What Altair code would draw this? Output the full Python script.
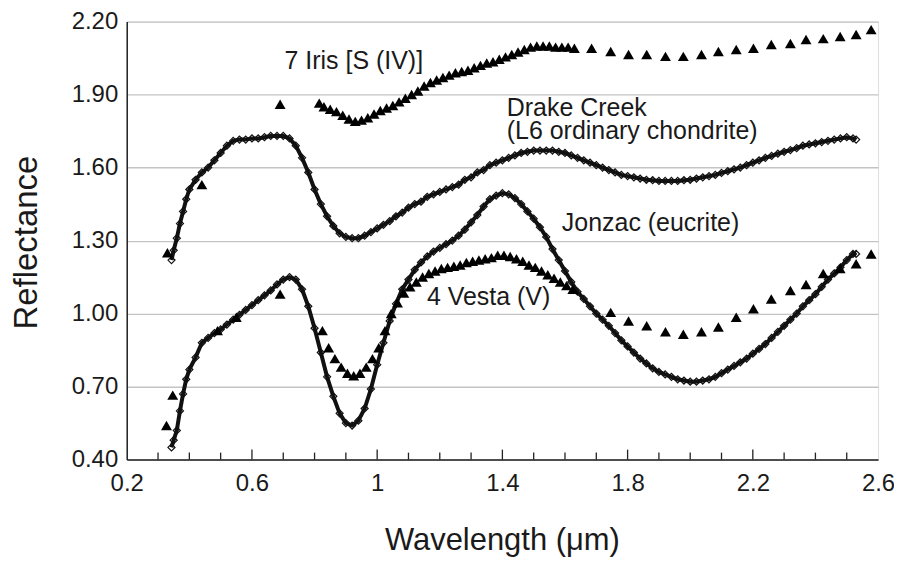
import altair as alt
import pandas as pd

# ---------------- data ----------------
drake_x = [0.343, 0.35, 0.36, 0.37, 0.38, 0.39, 0.40, 0.42, 0.44, 0.46, 0.48, 0.50, 0.52, 0.54, 0.56, 0.58,
           0.60, 0.62, 0.64, 0.66, 0.68, 0.70, 0.72, 0.74, 0.76, 0.78, 0.80, 0.82, 0.84, 0.86, 0.88, 0.90,
           0.92, 0.94, 0.96, 0.98, 1.00, 1.02, 1.04, 1.06, 1.08, 1.10, 1.12, 1.14, 1.16, 1.18, 1.20, 1.22,
           1.24, 1.26, 1.28, 1.30, 1.32, 1.34, 1.36, 1.38, 1.40, 1.42, 1.44, 1.46, 1.48, 1.50, 1.52, 1.54,
           1.56, 1.58, 1.60, 1.62, 1.64, 1.66, 1.68, 1.70, 1.72, 1.74, 1.76, 1.78, 1.80, 1.82, 1.84, 1.86,
           1.88, 1.90, 1.92, 1.94, 1.96, 1.98, 2.00, 2.02, 2.04, 2.06, 2.08, 2.10, 2.12, 2.14, 2.16, 2.18,
           2.20, 2.22, 2.24, 2.26, 2.28, 2.30, 2.32, 2.34, 2.36, 2.38, 2.40, 2.42, 2.44, 2.46, 2.48, 2.50,
           2.52, 2.53]
drake_y = [1.22, 1.26, 1.31, 1.37, 1.42, 1.47, 1.51, 1.55, 1.58, 1.60, 1.63, 1.66, 1.69, 1.71, 1.715, 1.715,
           1.72, 1.72, 1.725, 1.73, 1.73, 1.73, 1.72, 1.69, 1.64, 1.58, 1.51, 1.45, 1.40, 1.36, 1.33, 1.315,
           1.31, 1.31, 1.32, 1.335, 1.35, 1.365, 1.38, 1.40, 1.415, 1.435, 1.45, 1.46, 1.48, 1.49, 1.50, 1.51,
           1.52, 1.53, 1.55, 1.56, 1.58, 1.59, 1.61, 1.62, 1.63, 1.64, 1.65, 1.66, 1.665, 1.67, 1.67, 1.67,
           1.67, 1.665, 1.66, 1.65, 1.64, 1.63, 1.62, 1.61, 1.60, 1.59, 1.58, 1.57, 1.565, 1.56, 1.555, 1.55,
           1.548, 1.545, 1.545, 1.545, 1.545, 1.548, 1.55, 1.555, 1.56, 1.565, 1.57, 1.578, 1.585, 1.593, 1.60, 1.61,
           1.62, 1.63, 1.64, 1.648, 1.657, 1.665, 1.672, 1.68, 1.69, 1.695, 1.70, 1.705, 1.71, 1.715, 1.72, 1.725,
           1.72, 1.715]

jonzac_x = drake_x
jonzac_y = [0.45, 0.48, 0.52, 0.60, 0.67, 0.73, 0.77, 0.82, 0.88, 0.90, 0.92, 0.935, 0.955, 0.975, 0.995, 1.015,
            1.035, 1.055, 1.075, 1.095, 1.12, 1.14, 1.15, 1.14, 1.10, 1.03, 0.94, 0.84, 0.74, 0.66, 0.59, 0.55,
            0.54, 0.56, 0.61, 0.69, 0.79, 0.88, 0.97, 1.04, 1.10, 1.14, 1.18, 1.21, 1.235, 1.255, 1.27, 1.285,
            1.30, 1.32, 1.345, 1.375, 1.405, 1.44, 1.47, 1.485, 1.495, 1.49, 1.475, 1.45, 1.42, 1.39, 1.355, 1.315,
            1.265, 1.22, 1.175, 1.13, 1.09, 1.06, 1.03, 1.00, 0.975, 0.95, 0.92, 0.89, 0.865, 0.84, 0.815, 0.795,
            0.775, 0.76, 0.75, 0.74, 0.73, 0.725, 0.72, 0.72, 0.725, 0.73, 0.74, 0.755, 0.77, 0.785, 0.80, 0.815,
            0.835, 0.855, 0.875, 0.90, 0.925, 0.95, 0.975, 1.00, 1.03, 1.055, 1.08, 1.11, 1.14, 1.165, 1.19, 1.22,
            1.245, 1.245]

iris_x = [0.33, 0.44, 0.69,
          0.815, 0.83, 0.85, 0.87, 0.89, 0.91, 0.93, 0.95, 0.97, 0.99, 1.01, 1.03, 1.05, 1.07, 1.09, 1.11,
          1.13, 1.15, 1.17, 1.19, 1.21, 1.23, 1.25, 1.27, 1.29, 1.31, 1.33, 1.35, 1.37, 1.39, 1.41, 1.43,
          1.45, 1.47, 1.49, 1.51, 1.53, 1.55, 1.57, 1.59, 1.61, 1.63,
          1.685, 1.746, 1.803, 1.861, 1.921, 1.978, 2.036, 2.09, 2.147, 2.202, 2.259, 2.32, 2.37, 2.425,
          2.479, 2.53, 2.578]
iris_y = [1.25, 1.53, 1.86,
          1.865, 1.85, 1.84, 1.83, 1.815, 1.80, 1.79, 1.795, 1.805, 1.82, 1.835, 1.845, 1.855, 1.87, 1.885, 1.90,
          1.915, 1.935, 1.95, 1.96, 1.97, 1.98, 1.99, 1.995, 2.00, 2.01, 2.02, 2.03, 2.035, 2.045, 2.055, 2.065,
          2.075, 2.085, 2.095, 2.10, 2.10, 2.10, 2.095, 2.095, 2.095, 2.09,
          2.09, 2.077, 2.065, 2.065, 2.057, 2.057, 2.065, 2.077, 2.085, 2.09, 2.106, 2.11, 2.126, 2.13,
          2.139, 2.147, 2.167]

vesta_x = [0.327, 0.347, 0.49, 0.55, 0.69,
           0.825, 0.845, 0.865, 0.885, 0.905, 0.925, 0.945, 0.965, 0.985, 1.005, 1.025, 1.045, 1.065, 1.085,
           1.105, 1.125, 1.145, 1.165, 1.185, 1.205, 1.225, 1.245, 1.265, 1.285, 1.305, 1.325, 1.345, 1.365,
           1.385, 1.405, 1.425, 1.445, 1.465, 1.485, 1.505, 1.525, 1.545, 1.565, 1.585, 1.605, 1.625,
           1.746, 1.803, 1.861, 1.921, 1.978, 2.036, 2.09, 2.147, 2.202, 2.259, 2.32, 2.37, 2.425, 2.479,
           2.53, 2.578]
vesta_y = [0.54, 0.665, 0.93, 0.985, 1.08,
           0.93, 0.86, 0.815, 0.78, 0.755, 0.745, 0.755, 0.78, 0.815, 0.86, 0.93, 1.00, 1.045, 1.085,
           1.11, 1.13, 1.15, 1.165, 1.175, 1.185, 1.19, 1.195, 1.20, 1.21, 1.215, 1.22, 1.225, 1.23,
           1.24, 1.24, 1.235, 1.225, 1.215, 1.20, 1.19, 1.175, 1.16, 1.145, 1.13, 1.115, 1.10,
           1.005, 0.97, 0.95, 0.925, 0.915, 0.925, 0.945, 0.985, 1.02, 1.06, 1.095, 1.12, 1.165, 1.185,
           1.205, 1.245]

label_text = ["7 Iris [S (IV)]", "Drake Creek\n(L6 ordinary chondrite)", "Jonzac (eucrite)", "4 Vesta (V)"]
label_x = [0.704, 1.414, 1.59, 1.159]
label_y = [2.036, 1.846, 1.373, 1.067]

x_labels = [0.2, 0.6, 1.0, 1.4, 1.8, 2.2, 2.6]
y_labels = [0.4, 0.7, 1.0, 1.3, 1.6, 1.9, 2.2]
minor_ticks = [0.3, 0.4, 0.5, 0.7, 0.8, 0.9, 1.1, 1.2, 1.3, 1.5, 1.6, 1.7, 1.9, 2.0, 2.1, 2.3, 2.4, 2.5]
major_ticks = [0.6, 1.0, 1.4, 1.8, 2.2]

# ---------------- frames ----------------
drake = pd.DataFrame({"x": drake_x, "y": drake_y})
jonzac = pd.DataFrame({"x": jonzac_x, "y": jonzac_y})
iris = pd.DataFrame({"x": iris_x, "y": iris_y})
vesta = pd.DataFrame({"x": vesta_x, "y": vesta_y})
labels = pd.DataFrame({"x": label_x, "y": label_y, "t": label_text})
minor = pd.DataFrame({"x": minor_ticks})
major = pd.DataFrame({"x": major_ticks})

FONT = "Liberation Sans"
INK = "#1a1a1a"
W, H = 753, 439

xscale = alt.Scale(domain=[0.2, 2.6], nice=False, zero=False)
yscale = alt.Scale(domain=[0.4, 2.2], nice=False, zero=False)

xaxis = alt.Axis(values=x_labels, format="~g", title="Wavelength (\u03bcm)", grid=False, ticks=False,
                 labelFlush=False, labelFontSize=24, labelPadding=12, labelFont=FONT, labelColor=INK,
                 titleFontSize=31, titleFont=FONT, titleFontWeight="normal", titleColor=INK,
                 titleX=376, titleY=90, titleBaseline="alphabetic", titleAlign="center",
                 domainColor="#222222", domainWidth=1.5)
yaxis = alt.Axis(values=y_labels, format=".2f", title="Reflectance", grid=True, gridColor="#c4c4c4",
                 gridWidth=1.3, ticks=False, labelFlush=False, labelFontSize=24, labelPadding=9,
                 labelFont=FONT, labelColor=INK, titleFontSize=33, titleFont=FONT, titleFontWeight="normal",
                 titleColor=INK, titleAngle=-90, titleX=-100, titleY=221, titleBaseline="middle",
                 titleAlign="center", domainColor="#222222", domainWidth=1.5)

X = alt.X("x:Q", scale=xscale, axis=xaxis)
Y = alt.Y("y:Q", scale=yscale, axis=yaxis)


def spectrum(df):
    line = alt.Chart(df).mark_line(color="#111111", strokeWidth=4).encode(x=X, y=Y)
    pts = alt.Chart(df).mark_point(shape="diamond", filled=False, stroke="#111111",
                                   strokeWidth=1.2, size=50, opacity=1).encode(x=X, y=Y)
    return line + pts


def asteroid(df):
    return alt.Chart(df).mark_point(shape="triangle-up", filled=True, color="#000000",
                                    size=120, opacity=1).encode(x=X, y=Y)


minor_rules = alt.Chart(minor).mark_rule(color="#222222", strokeWidth=1.3).encode(
    x=X, y=alt.value(H), y2=alt.value(H - 7))
major_rules = alt.Chart(major).mark_rule(color="#222222", strokeWidth=1.3).encode(
    x=X, y=alt.value(H), y2=alt.value(H - 10))

texts = alt.Chart(labels).mark_text(align="left", baseline="middle", fontSize=25, font=FONT,
                                    lineBreak="\n", lineHeight=23, color=INK).encode(x=X, y=Y, text="t:N")

chart = alt.layer(
    spectrum(drake), spectrum(jonzac), asteroid(iris), asteroid(vesta),
    minor_rules, major_rules, texts
).properties(
    width=W, height=H,
    autosize=alt.AutoSizeParams(type="none"),
    padding={"left": 119, "top": 13, "right": 16, "bottom": 97},
).configure_view(stroke="#222222", strokeWidth=1.5).configure(background="white")

chart.save("out.html", embed_options={"renderer": "svg", "actions": False})
